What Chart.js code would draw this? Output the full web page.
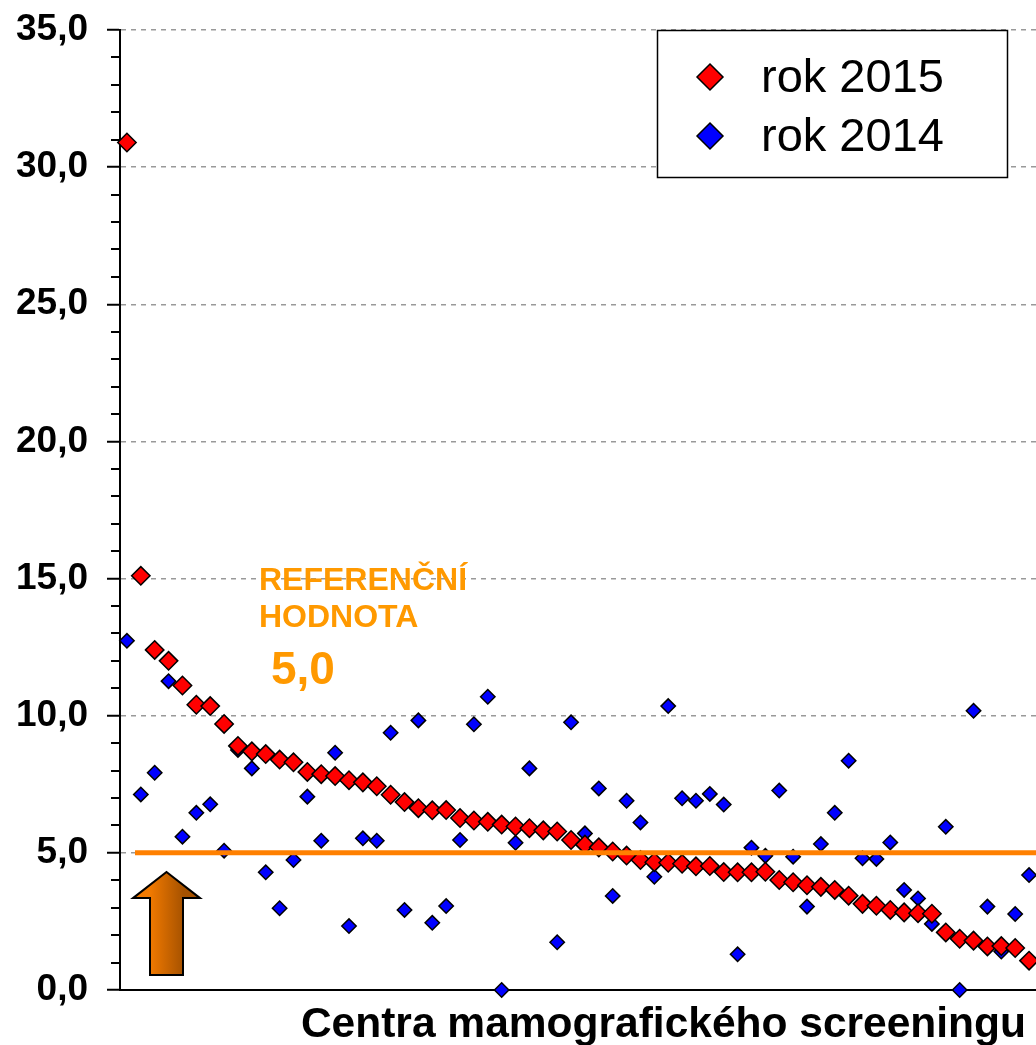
<!DOCTYPE html>
<html><head><meta charset="utf-8">
<script src="https://cdn.jsdelivr.net/npm/chart.js@4.4.1/dist/chart.umd.min.js"></script>
<style>html,body{margin:0;padding:0;background:#fff;overflow:hidden}#c{display:block}</style>
</head><body>
<canvas id="c" width="1036" height="1045"></canvas>
<script>
const categories = ['1','2','3','4','5','6','7','8','9','10','11','12','13','14','15','16','17','18','19','20','21','22','23','24','25','26','27','28','29','30','31','32','33','34','35','36','37','38','39','40','41','42','43','44','45','46','47','48','49','50','51','52','53','54','55','56','57','58','59','60','61','62','63','64','65','66'];
const rok2015 = [30.9,15.1,12.4,12.0,11.1,10.4,10.35,9.7,8.9,8.7,8.6,8.4,8.3,7.95,7.87,7.8,7.65,7.57,7.43,7.12,6.85,6.63,6.55,6.56,6.27,6.18,6.13,6.03,5.96,5.9,5.82,5.78,5.47,5.3,5.2,5.05,4.9,4.74,4.66,4.64,4.6,4.51,4.52,4.3,4.29,4.29,4.31,4.01,3.93,3.82,3.76,3.65,3.44,3.14,3.07,2.92,2.83,2.8,2.78,2.1,1.87,1.8,1.59,1.6,1.53,1.07];
const rok2014 = [12.73,7.13,7.92,11.26,5.59,6.46,6.77,5.08,8.75,8.08,4.29,2.98,4.74,7.05,5.44,8.65,2.33,5.53,5.44,9.38,2.92,9.83,2.45,3.06,5.47,9.69,10.69,0,5.37,8.08,5.78,1.74,9.76,5.71,7.35,3.43,6.9,6.11,4.13,10.35,6.99,6.9,7.15,6.76,1.3,5.19,4.89,7.27,4.86,3.04,5.32,6.46,8.36,4.8,4.78,5.38,3.65,3.34,2.41,5.95,0,10.18,3.04,1.4,2.77,4.19];
const seriesNames = ['rok 2015','rok 2014'];
const seriesColors = ['#FF0000','#0000FF'];
const yTickLabels = ['0,0','5,0','10,0','15,0','20,0','25,0','30,0','35,0'];
const referenceValue = 5.0;
const referenceText = ['REFERENČNÍ','HODNOTA','5,0'];
const xTitle = 'Centra mamografického screeningu';
const FONT = '"Liberation Sans", Arial, sans-serif';

function diamond(ctx, x, y, r, fill) {
  ctx.beginPath();
  ctx.moveTo(x, y - r); ctx.lineTo(x + r, y); ctx.lineTo(x, y + r); ctx.lineTo(x - r, y); ctx.closePath();
  ctx.fillStyle = fill; ctx.fill();
  ctx.lineWidth = 1.5; ctx.strokeStyle = '#000'; ctx.stroke();
}

const overlay = {
  id: 'overlay',
  afterDatasetsDraw(chart) {
    const {ctx, chartArea: a, scales: {x, y}} = chart;
    ctx.save();
    // minor ticks
    ctx.strokeStyle = '#000'; ctx.lineWidth = 2;
    for (let v = 0; v <= 35; v++) {
      if (v % 5 === 0) continue;
      const py = Math.round(y.getPixelForValue(v));
      ctx.beginPath(); ctx.moveTo(a.left - 9, py); ctx.lineTo(a.left, py); ctx.stroke();
    }
    // reference line
    const ry = y.getPixelForValue(referenceValue);
    ctx.strokeStyle = '#FF8000'; ctx.lineWidth = 5;
    ctx.beginPath(); ctx.moveTo(a.left + 15, ry); ctx.lineTo(a.right, ry); ctx.stroke();
    // arrow
    const cx = a.left + 46.5, tipY = y.getPixelForValue(4.3), headY = y.getPixelForValue(3.35), baseY = y.getPixelForValue(0.55);
    const g = ctx.createLinearGradient(cx - 17, 0, cx + 17, 0);
    g.addColorStop(0, '#F27A00'); g.addColorStop(1, '#A65200');
    ctx.beginPath();
    ctx.moveTo(cx, tipY); ctx.lineTo(cx + 33.5, headY); ctx.lineTo(cx + 16.5, headY); ctx.lineTo(cx + 16.5, baseY);
    ctx.lineTo(cx - 16.5, baseY); ctx.lineTo(cx - 16.5, headY); ctx.lineTo(cx - 33.5, headY); ctx.closePath();
    ctx.fillStyle = g; ctx.fill(); ctx.lineWidth = 2; ctx.strokeStyle = '#000'; ctx.stroke();
    // reference text
    ctx.fillStyle = '#FF9900'; ctx.textAlign = 'left'; ctx.textBaseline = 'middle';
    ctx.font = 'bold 32px ' + FONT;
    ctx.fillText(referenceText[0], 259, 581);
    ctx.fillText(referenceText[1], 259, 618);
    ctx.font = 'bold 46px ' + FONT;
    ctx.fillText(referenceText[2], 271, 671);
    ctx.restore();
  },
  afterDraw(chart) {
    const {ctx} = chart;
    ctx.save();
    // legend box
    ctx.fillStyle = '#fff'; ctx.fillRect(657, 30, 351, 148);
    ctx.lineWidth = 1.5; ctx.strokeStyle = '#000'; ctx.strokeRect(657.5, 30.5, 350, 147);
    const rows = [77, 136];
    ctx.font = '47px ' + FONT; ctx.textAlign = 'left'; ctx.textBaseline = 'middle';
    for (let i = 0; i < 2; i++) {
      diamond(ctx, 710, rows[i], 13, seriesColors[i]);
      ctx.fillStyle = '#000';
      ctx.fillText(seriesNames[i], 761, rows[i] + 2);
    }
    // x title
    ctx.font = 'bold 42.5px ' + FONT; ctx.textAlign = 'right'; ctx.textBaseline = 'middle'; ctx.fillStyle = '#000';
    ctx.fillText(xTitle, 1026, 1025);
    ctx.restore();
  }
};

new Chart(document.getElementById('c'), {
  type: 'line',
  data: {
    labels: categories,
    datasets: [rok2015, rok2014].map((d, i) => ({
      label: seriesNames[i], data: d, showLine: false, pointStyle: 'rectRot',
      pointRadius: i === 0 ? 9.2 : 7.2, pointHoverRadius: i === 0 ? 9.2 : 7.2,
      pointBackgroundColor: seriesColors[i], pointBorderColor: '#000', pointBorderWidth: 1.5,
      backgroundColor: seriesColors[i], borderColor: '#000', clip: false
    }))
  },
  options: {
    responsive: false, devicePixelRatio: 1, animation: false,
    layout: {autoPadding: false, padding: {top: 30, left: 0, right: 0, bottom: 0}},
    plugins: {legend: {display: false}, tooltip: {enabled: false}},
    scales: {
      x: {
        type: 'category', offset: true,
        afterFit(s) { s.height = 55; s.paddingLeft = 0; s.paddingRight = 0; },
        ticks: {display: false}, grid: {display: false},
        border: {display: true, color: '#000', width: 2}
      },
      y: {
        min: 0, max: 35,
        afterFit(s) { s.width = 120; s.paddingTop = 0; s.paddingBottom = 0; },
        ticks: {
          stepSize: 1, autoSkip: false, padding: 19, color: '#000',
          font: {family: FONT, size: 37, weight: 'bold'},
          callback: v => (v % 5 === 0 ? yTickLabels[v / 5] : '')
        },
        grid: {
          color: c => (c.tick && c.tick.value % 5 === 0 && c.tick.value !== 0) ? '#999999' : 'rgba(0,0,0,0)',
          lineWidth: 1.5,
          tickColor: c => (c.tick && c.tick.value % 5 === 0) ? '#000' : 'rgba(0,0,0,0)',
          tickLength: 13, tickWidth: 2
        },
        border: {display: true, color: '#000', width: 2, dash: [5, 5]}
      }
    }
  },
  plugins: [overlay]
});
</script>
</body></html>
